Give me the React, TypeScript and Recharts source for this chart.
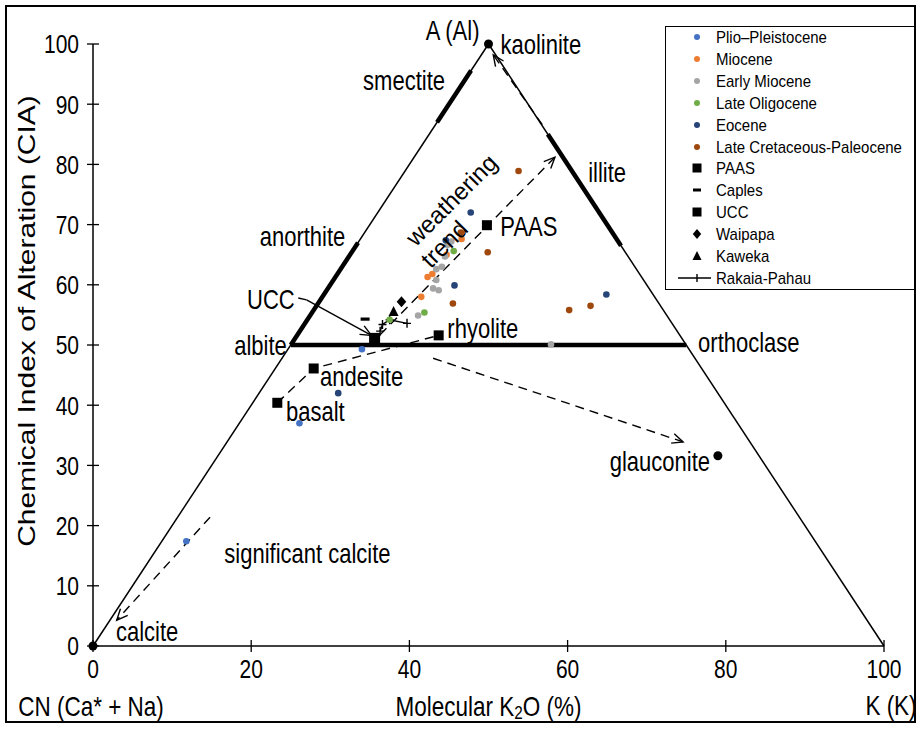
import React from 'react';
import { ScatterChart, Scatter, XAxis, YAxis, ReferenceLine } from 'recharts';

const FONT = '"Liberation Sans", Arial, Helvetica, sans-serif';
const STRETCH = 1.25;

// ---------- axis ticks ----------
const xTicks = [0, 20, 40, 60, 80, 100];
const yTicks = [0, 10, 20, 30, 40, 50, 60, 70, 80, 90, 100];

// ---------- sample series (x = molecular K2O %, y = CIA) ----------
const plioPleistocene = [
  { x: 34.0, y: 49.3 },
  { x: 26.1, y: 37.0 },
  { x: 11.8, y: 17.4 },
];
const miocene = [
  { x: 46.6, y: 67.6 },
  { x: 44.7, y: 65.0 },
  { x: 42.9, y: 61.8 },
  { x: 42.3, y: 61.3 },
  { x: 41.5, y: 58.0 },
];
const earlyMiocene = [
  { x: 45.3, y: 67.2 },
  { x: 44.8, y: 66.6 },
  { x: 44.5, y: 64.7 },
  { x: 44.1, y: 63.0 },
  { x: 43.4, y: 62.6 },
  { x: 43.4, y: 60.8 },
  { x: 43.0, y: 59.4 },
  { x: 43.7, y: 59.1 },
  { x: 41.1, y: 54.9 },
  { x: 57.9, y: 50.1 },
];
const lateOligocene = [
  { x: 45.6, y: 65.6 },
  { x: 41.9, y: 55.4 },
  { x: 37.5, y: 54.2 },
];
const eocene = [
  { x: 47.75, y: 72.0 },
  { x: 44.6, y: 67.4 },
  { x: 45.7, y: 59.9 },
  { x: 64.9, y: 58.4 },
  { x: 31.0, y: 42.0 },
];
const lateCretaceousPaleocene = [
  { x: 53.8, y: 78.9 },
  { x: 46.5, y: 68.7 },
  { x: 49.9, y: 65.4 },
  { x: 45.5, y: 56.9 },
  { x: 60.2, y: 55.8 },
  { x: 62.9, y: 56.5 },
];
const paas = [{ x: 49.8, y: 69.9 }];
const caples = [{ x: 34.4, y: 54.3 }];
const ucc = [{ x: 35.6, y: 51.1 }];
const waipapa = [{ x: 39.0, y: 57.2 }];
const kaweka = [{ x: 38.0, y: 55.5 }];
const rakaiaPahau = [
  { x: 39.7, y: 53.6 },
  { x: 37.5, y: 54.2 },
  { x: 36.6, y: 53.4 },
  { x: 36.3, y: 52.3 },
];
// igneous reference compositions (basalt, andesite, rhyolite)
const igneous = [
  { x: 23.3, y: 40.4 },
  { x: 27.9, y: 46.1 },
  { x: 43.7, y: 51.6 },
];
// end-member minerals (kaolinite, calcite, glauconite)
const minerals = [
  { x: 50, y: 100 },
  { x: 0, y: 0 },
  { x: 79.0, y: 31.6 },
];

// ---------- ternary frame & reference segments ----------
const triangleEdges = [
  [{ x: 0, y: 0 }, { x: 50, y: 100 }],
  [{ x: 50, y: 100 }, { x: 100, y: 0 }],
];
const mineralFields = [
  [{ x: 43.5, y: 87 }, { x: 47.8, y: 95.6 }], // smectite
  [{ x: 25, y: 50 }, { x: 33.5, y: 67 }], // anorthite
  [{ x: 57.5, y: 85 }, { x: 66.75, y: 66.5 }], // illite
  [{ x: 25, y: 50 }, { x: 75, y: 50 }], // albite - orthoclase
];
const trendArrows = [
  [{ x: 56.8, y: 86.6 }, { x: 50.6, y: 98.2 }], // to kaolinite
  [{ x: 36.3, y: 51.7 }, { x: 58.4, y: 81.2 }], // weathering trend
  [{ x: 43.0, y: 47.8 }, { x: 74.6, y: 33.9 }], // to glauconite
  [{ x: 14.8, y: 21.4 }, { x: 3.0, y: 4.3 }], // to calcite
];
const uccPointer = [
  [{ x: 25.95, y: 57.8 }, { x: 27.0, y: 57.5 }],
  [{ x: 27.0, y: 57.5 }, { x: 35.2, y: 51.6 }],
];

// ---------- annotation texts ----------
const annotations = [
  { text: 'A (Al)', x: 50, y: 100 },
  { text: 'kaolinite', x: 50, y: 100 },
  { text: 'smectite', x: 44.5, y: 94.0 },
  { text: 'illite', x: 62.6, y: 78.7 },
  { text: 'anorthite', x: 31.9, y: 68.1 },
  { text: 'weathering', x: 45.3, y: 74.1 },
  { text: 'trend', x: 44.4, y: 66.8 },
  { text: 'PAAS', x: 51.5, y: 69.8 },
  { text: 'UCC', x: 25.5, y: 57.6 },
  { text: 'rhyolite', x: 44.8, y: 52.8 },
  { text: 'albite', x: 24.5, y: 50.0 },
  { text: 'orthoclase', x: 76.5, y: 50.5 },
  { text: 'andesite', x: 28.7, y: 44.9 },
  { text: 'basalt', x: 24.4, y: 39.0 },
  { text: 'glauconite', x: 78.0, y: 30.7 },
  { text: 'significant calcite', x: 16.6, y: 15.4 },
  { text: 'calcite', x: 2.9, y: 2.5 },
];
const axisTitles = [
  { text: 'CN (Ca* + Na)', x: 0, y: 0 },
  { text: 'Molecular K2O (%)', x: 50, y: 0 },
  { text: 'K (K)', x: 100, y: 0 },
  { text: 'Chemical Index of Alteration (CIA)', x: 0, y: 50 },
];

// ---------- styles (kept apart from data) ----------
type TextStyle = { anchor: string; dx?: number; dy?: number; angle?: number; size?: number; plain?: boolean };
const annotationStyle: Record<string, TextStyle> = {
  'A (Al)': { anchor: 'end', dx: -9, dy: -14 },
  kaolinite: { anchor: 'start', dx: 12, dy: 0 },
  smectite: { anchor: 'end' },
  illite: { anchor: 'start' },
  anorthite: { anchor: 'end' },
  weathering: { anchor: 'middle', angle: -45, size: 24, plain: true },
  trend: { anchor: 'middle', angle: -45, size: 24, plain: true },
  PAAS: { anchor: 'start' },
  UCC: { anchor: 'end' },
  rhyolite: { anchor: 'start' },
  albite: { anchor: 'end' },
  orthoclase: { anchor: 'start' },
  andesite: { anchor: 'start' },
  basalt: { anchor: 'start' },
  glauconite: { anchor: 'end' },
  'significant calcite': { anchor: 'start' },
  calcite: { anchor: 'start' },
};
const axisTitleStyle: Record<string, TextStyle> = {
  'CN (Ca* + Na)': { anchor: 'middle', dx: -2, dy: 60, size: 22.5 },
  'Molecular K2O (%)': { anchor: 'middle', dx: 0, dy: 60, size: 22.5 },
  'K (K)': { anchor: 'middle', dx: 7, dy: 59, size: 22.5 },
  'Chemical Index of Alteration (CIA)': { anchor: 'middle', dx: -66, dy: -24, angle: -90, size: 24 },
};

const COLORS = {
  plio: '#4472C4',
  miocene: '#ED7D31',
  early: '#A5A5A5',
  oligo: '#70AD47',
  eocene: '#264478',
  cret: '#9E480E',
};

// ---------- shapes ----------
const dotShape = (color: string, r = 3.3) => (p: any) =>
  p.cx == null ? null : <circle cx={p.cx} cy={p.cy} r={r} fill={color} />;
const squareShape = (s = 10) => (p: any) =>
  <rect x={p.cx - s / 2} y={p.cy - s / 2} width={s} height={s} fill="#000" />;
const dashShape = (p: any) => <rect x={p.cx - 4.5} y={p.cy - 1.6} width={9} height={3.2} fill="#000" />;
const diamondShape = (p: any) => (
  <path d={`M${p.cx},${p.cy - 5.5}L${p.cx + 4.8},${p.cy}L${p.cx},${p.cy + 5.5}L${p.cx - 4.8},${p.cy}Z`} fill="#000" />
);
const triangleShape = (p: any) => (
  <path d={`M${p.cx},${p.cy - 6}L${p.cx + 5},${p.cy + 4}L${p.cx - 5},${p.cy + 4}Z`} fill="#000" />
);
const plusShape = (p: any) => (
  <path d={`M${p.cx - 4},${p.cy}H${p.cx + 4}M${p.cx},${p.cy - 4.5}V${p.cy + 4.5}`} stroke="#000" strokeWidth={1.4} fill="none" />
);

const stretchTransform = (x: number, y: number, angle?: number) =>
  `translate(${x} ${y}) scale(1 ${STRETCH})${angle ? ` rotate(${angle})` : ''} translate(${-x} ${-y})`;

const textShape = (styles: Record<string, TextStyle>, defSize: number) => (p: any) => {
  const t = p.payload.text as string;
  const st = styles[t] || { anchor: 'start' };
  const size = st.size || defSize;
  const x = p.cx + (st.dx || 0);
  const y = p.cy + (st.dy || 0);
  const content =
    t === 'Molecular K2O (%)' ? (
      <>
        Molecular K<tspan fontSize={size * 0.68} dy={5}>2</tspan>
        <tspan dy={-5}>O (%)</tspan>
      </>
    ) : (
      t
    );
  const transform = st.plain ? `rotate(${st.angle || 0}, ${x}, ${y})` : stretchTransform(x, y, st.angle);
  return (
    <text
      x={x}
      y={y}
      textAnchor={st.anchor}
      dominantBaseline="central"
      fontSize={size}
      fontFamily={FONT}
      fill="#000"
      transform={transform}
    >
      {content}
    </text>
  );
};

const arrowLine = (opts: { dash?: string; width: number; arrow: boolean }) => (p: any) => {
  const { x1, y1, x2, y2 } = p;
  if ([x1, y1, x2, y2].some((v) => v == null || isNaN(v))) return null;
  const ang = Math.atan2(y2 - y1, x2 - x1);
  const L = 12;
  const a = 0.42;
  const ax1 = x2 - L * Math.cos(ang - a);
  const ay1 = y2 - L * Math.sin(ang - a);
  const ax2 = x2 - L * Math.cos(ang + a);
  const ay2 = y2 - L * Math.sin(ang + a);
  return (
    <g>
      <line x1={x1} y1={y1} x2={x2} y2={y2} stroke="#000" strokeWidth={opts.width} strokeDasharray={opts.dash} />
      {opts.arrow && (
        <path d={`M${ax1},${ay1}L${x2},${y2}L${ax2},${ay2}`} stroke="#000" strokeWidth={1.4} fill="none" />
      )}
    </g>
  );
};

const TICK_SIZE = 21;
const XTick = (p: any) => {
  const ty = p.y + 23;
  return (
    <g>
      <line x1={p.x} x2={p.x} y1={p.y - 6} y2={p.y + 6} stroke="#000" strokeWidth={1.3} />
      <text x={p.x} y={ty} textAnchor="middle" dominantBaseline="central" fontSize={TICK_SIZE} fontFamily={FONT} fill="#000" transform={stretchTransform(p.x, ty)}>
        {p.payload.value}
      </text>
    </g>
  );
};
const YTick = (p: any) => {
  const tx = p.x - 14;
  return (
    <g>
      <line x1={p.x - 6} x2={p.x + 6} y1={p.y} y2={p.y} stroke="#000" strokeWidth={1.3} />
      <text x={tx} y={p.y} textAnchor="end" dominantBaseline="central" fontSize={TICK_SIZE} fontFamily={FONT} fill="#000" transform={stretchTransform(tx, p.y)}>
        {p.payload.value}
      </text>
    </g>
  );
};

// ---------- legend ----------
type LegendItem = { name: string; kind: string; color?: string };
const legendItems: LegendItem[] = [
  { name: 'Plio–Pleistocene', kind: 'dot', color: COLORS.plio },
  { name: 'Miocene', kind: 'dot', color: COLORS.miocene },
  { name: 'Early Miocene', kind: 'dot', color: COLORS.early },
  { name: 'Late Oligocene', kind: 'dot', color: COLORS.oligo },
  { name: 'Eocene', kind: 'dot', color: COLORS.eocene },
  { name: 'Late Cretaceous-Paleocene', kind: 'dot', color: COLORS.cret },
  { name: 'PAAS', kind: 'square' },
  { name: 'Caples', kind: 'dash' },
  { name: 'UCC', kind: 'square' },
  { name: 'Waipapa', kind: 'diamond' },
  { name: 'Kaweka', kind: 'triangle' },
  { name: 'Rakaia-Pahau', kind: 'plusline' },
];

const LegendMarker = ({ item }: { item: LegendItem }) => {
  const c = 31;
  const m = 11;
  let el: any = null;
  if (item.kind === 'dot') el = <circle cx={c} cy={m} r={3} fill={item.color} />;
  if (item.kind === 'square') el = <rect x={c - 4.5} y={m - 4.5} width={9} height={9} fill="#000" />;
  if (item.kind === 'dash') el = <rect x={c - 4} y={m - 1.5} width={8} height={3} fill="#000" />;
  if (item.kind === 'diamond') el = <path d={`M${c},${m - 5}L${c + 4.2},${m}L${c},${m + 5}L${c - 4.2},${m}Z`} fill="#000" />;
  if (item.kind === 'triangle') el = <path d={`M${c},${m - 5}L${c + 4.5},${m + 4}L${c - 4.5},${m + 4}Z`} fill="#000" />;
  if (item.kind === 'plusline')
    el = (
      <path d={`M${c - 19},${m}H${c + 14}M${c},${m - 4}V${m + 4}`} stroke="#000" strokeWidth={1.4} fill="none" />
    );
  return (
    <svg width={50} height={22} style={{ position: 'absolute', left: 0, top: 0 }}>
      {el}
    </svg>
  );
};

const ChartLegend = () => (
  <div
    style={{
      position: 'absolute',
      left: 665,
      top: 26,
      width: 250,
      height: 264,
      border: '1.5px solid #000',
      boxSizing: 'border-box',
      background: '#fff',
      fontFamily: FONT,
      fontSize: 15,
      color: '#000',
    }}
  >
    {legendItems.map((it, i) => (
      <div key={it.name} style={{ position: 'absolute', left: 0, top: i * 21.9 - 1, height: 22, width: 248 }}>
        <LegendMarker item={it} />
        <span style={{ position: 'absolute', left: 50, top: 11, transform: 'translateY(-50%) scaleY(1.08)', whiteSpace: 'nowrap' }}>
          {it.name}
        </span>
      </div>
    ))}
  </div>
);

export default function App() {
  return (
    <div style={{ position: 'absolute', left: 0, top: 0, width: 918, height: 729, background: '#fff' }}>
      <ScatterChart width={918} height={729} margin={{ top: 44, right: 34, bottom: 43, left: 33 }}>
        <XAxis
          type="number"
          dataKey="x"
          domain={[0, 100]}
          ticks={xTicks}
          height={40}
          tickSize={0}
          tickMargin={0}
          tickLine={false}
          axisLine={{ stroke: '#000', strokeWidth: 1.5 }}
          tick={<XTick />}
          interval={0}
        />
        <YAxis
          type="number"
          dataKey="y"
          domain={[0, 100]}
          ticks={yTicks}
          width={60}
          tickSize={0}
          tickMargin={0}
          tickLine={false}
          axisLine={{ stroke: '#000', strokeWidth: 1.5 }}
          tick={<YTick />}
          interval={0}
        />

        {triangleEdges.map((s, i) => (
          <ReferenceLine key={`e${i}`} segment={s} shape={arrowLine({ width: 1.5, arrow: false })} />
        ))}
        {mineralFields.map((s, i) => (
          <ReferenceLine key={`f${i}`} segment={s} shape={arrowLine({ width: 4.5, arrow: false })} />
        ))}
        {trendArrows.map((s, i) => (
          <ReferenceLine key={`a${i}`} segment={s} shape={arrowLine({ width: 1.4, dash: '9 6', arrow: true })} />
        ))}
        {uccPointer.map((s, i) => (
          <ReferenceLine key={`u${i}`} segment={s} shape={arrowLine({ width: 1.4, arrow: i === 1 })} />
        ))}

        <Scatter
          name="igneous"
          data={igneous}
          isAnimationActive={false}
          line={{ stroke: '#000', strokeWidth: 1.4, strokeDasharray: '9 6' }}
          lineType="joint"
          shape={squareShape(10)}
          legendType="none"
        />
        <Scatter name="Rakaia-Pahau" data={rakaiaPahau} isAnimationActive={false} line={{ stroke: '#000', strokeWidth: 1.4 }} lineType="joint" shape={plusShape} />
        <Scatter name="Plio–Pleistocene" data={plioPleistocene} isAnimationActive={false} shape={dotShape(COLORS.plio)} />
        <Scatter name="Miocene" data={miocene} isAnimationActive={false} shape={dotShape(COLORS.miocene)} />
        <Scatter name="Early Miocene" data={earlyMiocene} isAnimationActive={false} shape={dotShape(COLORS.early)} />
        <Scatter name="Late Oligocene" data={lateOligocene} isAnimationActive={false} shape={dotShape(COLORS.oligo)} />
        <Scatter name="Eocene" data={eocene} isAnimationActive={false} shape={dotShape(COLORS.eocene)} />
        <Scatter name="Late Cretaceous-Paleocene" data={lateCretaceousPaleocene} isAnimationActive={false} shape={dotShape(COLORS.cret)} />
        <Scatter name="PAAS" data={paas} isAnimationActive={false} shape={squareShape(10)} />
        <Scatter name="Caples" data={caples} isAnimationActive={false} shape={dashShape} />
        <Scatter name="UCC" data={ucc} isAnimationActive={false} shape={squareShape(11)} />
        <Scatter name="Waipapa" data={waipapa} isAnimationActive={false} shape={diamondShape} />
        <Scatter name="Kaweka" data={kaweka} isAnimationActive={false} shape={triangleShape} />
        <Scatter name="minerals" data={minerals} isAnimationActive={false} shape={dotShape('#000', 4.5)} legendType="none" />

        <Scatter name="annotations" data={annotations} isAnimationActive={false} shape={textShape(annotationStyle, 22)} legendType="none" />
        <Scatter name="axisTitles" data={axisTitles} isAnimationActive={false} shape={textShape(axisTitleStyle, 22)} legendType="none" />
      </ScatterChart>
      <ChartLegend />
      <div
        style={{
          position: 'absolute',
          left: 5,
          top: 5,
          width: 911,
          height: 718,
          border: '2px solid #000',
          boxSizing: 'border-box',
          pointerEvents: 'none',
        }}
      />
    </div>
  );
}
